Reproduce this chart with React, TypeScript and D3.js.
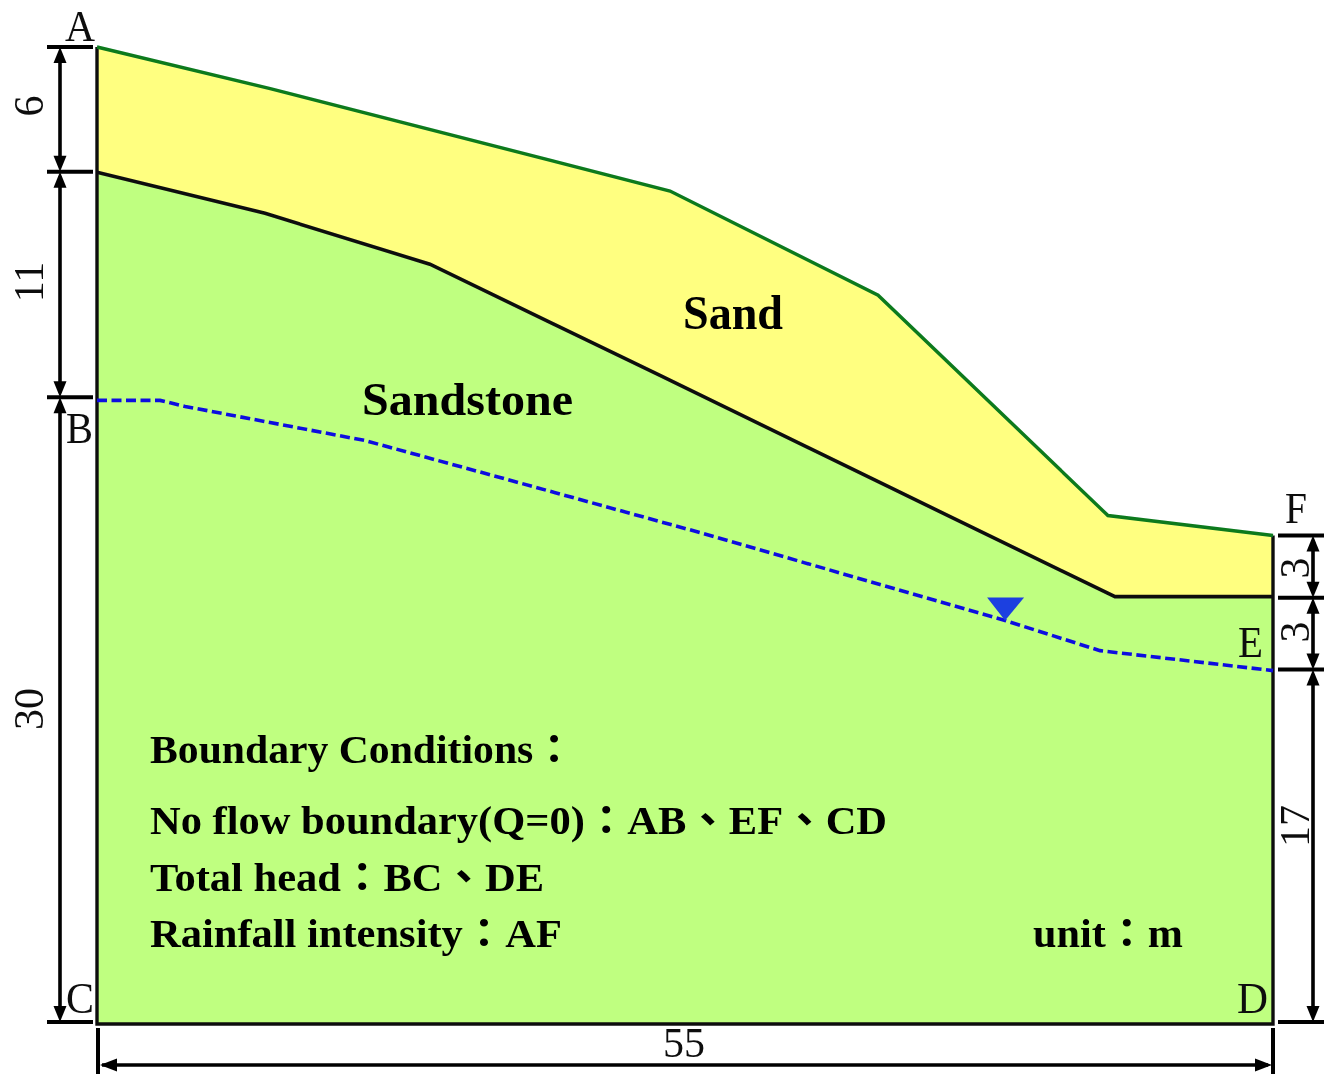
import React from "react";
import * as d3 from "d3";

type P = [number, number];
const groundSurface: P[] = [[0, 47], [8.1, 45], [26.8, 40.07], [36.53, 35.06], [47.28, 24.46], [55, 23.5]];
const sandBase: P[] = [[0, 40.98], [7.86, 39.0], [15.57, 36.55], [26.33, 31.2], [37.09, 25.81], [47.61, 20.56], [55, 20.56]];
const waterTable: P[] = [[0, 30], [2.95, 30], [4.12, 29.71], [12.53, 28.07], [18.85, 26.29], [28.2, 23.64], [42.47, 19.41], [46.91, 17.96], [55, 17]];
const leftDims = [47, 41, 30.15, 0.1];
const rightDims = [23.5, 20.5, 17.05, 0.1];
const waterMarker: P = [42.47, 19.41];

const leftLabels = [{ t: "6", x: 29, y: 106 }, { t: "11", x: 29, y: 282 }, { t: "30", x: 29, y: 709 }];
const rightLabels = [{ t: "3", x: 1295, y: 568 }, { t: "3", x: 1295, y: 632 }, { t: "17", x: 1295, y: 826 }];
const cornerLabels = [
  { t: "A", x: 65, y: 41, w: 30 }, { t: "B", x: 66, y: 443, w: 27 }, { t: "C", x: 66, y: 1013, w: 28 },
  { t: "D", x: 1237, y: 1013, w: 31 }, { t: "E", x: 1238, y: 657, w: 25 }, { t: "F", x: 1285, y: 523, w: 22 },
];
const boldLabels = [
  { t: "Sand", x: 683, y: 329, w: 100, s: 48 },
  { t: "Sandstone", x: 362, y: 415, w: 211, s: 47 },
  { t: "Boundary Conditions：", x: 150, y: 763, w: 425, s: 40 },
  { t: "No flow boundary(Q=0)：AB、EF、CD", x: 150, y: 834, w: 737, s: 40 },
  { t: "Total head：BC、DE", x: 150, y: 891, w: 394, s: 40 },
  { t: "Rainfall intensity：AF", x: 150, y: 947, w: 412, s: 40 },
  { t: "unit：m", x: 1033, y: 947, w: 150, s: 40 },
];

const x = d3.scaleLinear().domain([0, 55]).range([97, 1273]);
const y = d3.scaleLinear().domain([0, 47]).range([1024, 47]);
const line = d3.line<P>().x((d) => x(d[0])).y((d) => y(d[1]));
const SERIF = "'Liberation Serif','Noto Sans CJK TC',serif";

function VArrow({ px, a, b }: { px: number; a: number; b: number }) {
  const hw = 6.5, hl = 16;
  return (
    <g>
      <line x1={px} x2={px} y1={a + 5} y2={b - 5} stroke="#000" strokeWidth={3.6} />
      <polygon points={`${px},${a} ${px - hw},${a + hl} ${px + hw},${a + hl}`} fill="#000" />
      <polygon points={`${px},${b} ${px - hw},${b - hl} ${px + hw},${b - hl}`} fill="#000" />
    </g>
  );
}

export default function App() {
  const outline = [...groundSurface, [55, 0] as P, [0, 0] as P];
  const sandArea = [...groundSurface, ...[...sandBase].reverse()];
  const mx = x(waterMarker[0]), my = y(waterMarker[1]);
  const bottom = y(0);
  return (
    <svg width={1343} height={1091} style={{ position: "absolute", left: 0, top: 0, background: "#fff" }}>
      <defs>
        <filter id="soft" x="-2%" y="-2%" width="104%" height="104%">
          <feGaussianBlur stdDeviation={0.7} />
        </filter>
      </defs>
      <g filter="url(#soft)">
        <path d={line(outline) + "Z"} fill="#bfff80" />
        <path d={line(sandArea) + "Z"} fill="#ffff80" />
        <path d={`M${x(0)},${y(47)}V${bottom}H${x(55)}V${y(23.5)}`} fill="none" stroke="#111" strokeWidth={3.4} />
        <path d={line(waterTable)!} fill="none" stroke="#1010e0" strokeWidth={3.6} strokeDasharray="10 4.5" />
        <path d={line(sandBase)!} fill="none" stroke="#111" strokeWidth={3.6} />
        <path d={line(groundSurface)!} fill="none" stroke="#0a7a1e" strokeWidth={3.4} />
        <polygon points={`${mx - 18},${my - 23} ${mx + 19},${my - 23} ${mx},${my}`} fill="#1f3fe0" />

        {leftDims.map((v) => (
          <line key={v} x1={47} x2={93} y1={y(v)} y2={y(v)} stroke="#000" strokeWidth={4} />
        ))}
        {leftDims.slice(1).map((v, i) => (
          <VArrow key={v} px={60} a={y(leftDims[i])} b={y(v)} />
        ))}
        {rightDims.map((v) => (
          <line key={v} x1={1278} x2={1324} y1={y(v)} y2={y(v)} stroke="#000" strokeWidth={4} />
        ))}
        {rightDims.slice(1).map((v, i) => (
          <VArrow key={v} px={1313} a={y(rightDims[i])} b={y(v)} />
        ))}
        <line x1={98} x2={98} y1={1028} y2={1074} stroke="#000" strokeWidth={4} />
        <line x1={x(55)} x2={x(55)} y1={1028} y2={1074} stroke="#000" strokeWidth={4} />
        <line x1={102} x2={1268} y1={1065} y2={1065} stroke="#000" strokeWidth={3.6} />
        <polygon points={`100,1065 117,1058.5 117,1071.5`} fill="#000" />
        <polygon points={`${x(55) - 1},1065 ${x(55) - 18},1058.5 ${x(55) - 18},1071.5`} fill="#000" />

        <g fontFamily={SERIF} fill="#111">
          {[...leftLabels, ...rightLabels].map((l, i) => (
            <text key={i} fontSize={42} textAnchor="middle" dominantBaseline="central"
              transform={`translate(${l.x},${l.y}) rotate(-90)`}>{l.t}</text>
          ))}
          <text x={684} y={1057} fontSize={42} textAnchor="middle">55</text>
          {cornerLabels.map((l) => (
            <text key={l.t} x={l.x} y={l.y} fontSize={45} textLength={l.w} lengthAdjust="spacingAndGlyphs">{l.t}</text>
          ))}
        </g>
        <g fontFamily={SERIF} fontWeight="bold" fill="#000">
          {boldLabels.map((l) => (
            <text key={l.t} x={l.x} y={l.y} fontSize={l.s} textLength={l.w} lengthAdjust="spacingAndGlyphs">{l.t}</text>
          ))}
        </g>
      </g>
    </svg>
  );
}
